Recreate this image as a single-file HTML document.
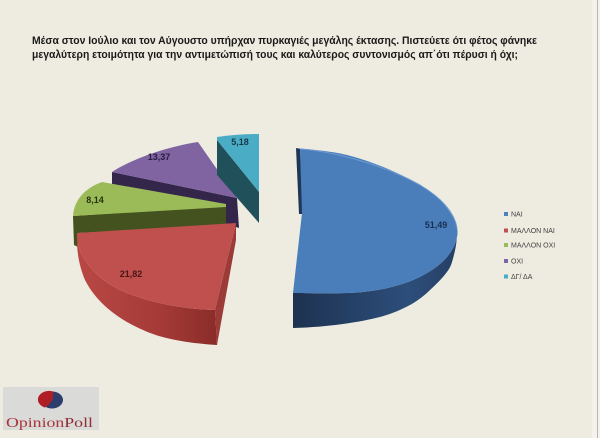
<!DOCTYPE html>
<html>
<head>
<meta charset="utf-8">
<style>
  html, body { margin: 0; padding: 0; background: #EEECE1; }
  svg { display: block; }
</style>
</head>
<body>
<svg width="600" height="438" viewBox="0 0 600 438" xmlns="http://www.w3.org/2000/svg">
  <defs>
    <linearGradient id="blueSide" x1="293" y1="0" x2="458" y2="0" gradientUnits="userSpaceOnUse">
      <stop offset="0" stop-color="#1D3250"/>
      <stop offset="0.7" stop-color="#2D4E7B"/>
      <stop offset="1" stop-color="#253F64"/>
    </linearGradient>
    <linearGradient id="redSide" x1="77" y1="0" x2="217" y2="0" gradientUnits="userSpaceOnUse">
      <stop offset="0" stop-color="#B94844"/>
      <stop offset="0.6" stop-color="#A53A37"/>
      <stop offset="1" stop-color="#8A2C29"/>
    </linearGradient>
  </defs>

  <!-- background & right border -->
  <rect x="0" y="0" width="600" height="438" fill="#EEECE1"/>
  <rect x="592" y="0" width="5" height="438" fill="#F4F2EA"/>
  <rect x="597" y="0" width="1" height="438" fill="#B9B9B4"/>
  <rect x="598" y="0" width="2" height="438" fill="#F2F2F2"/>

  <!-- title -->
  <g font-family="'Liberation Sans', 'DejaVu Sans', sans-serif" font-weight="bold" font-size="11" fill="#1A1A1A">
    <text x="32" y="44" textLength="505" lengthAdjust="spacingAndGlyphs">Μέσα στον Ιούλιο και τον Αύγουστο υπήρχαν πυρκαγιές μεγάλης έκτασης. Πιστεύετε ότι φέτος φάνηκε</text>
    <text x="32" y="58" textLength="486" lengthAdjust="spacingAndGlyphs">μεγαλύτερη ετοιμότητα για την αντιμετώπισή τους και καλύτερος συντονισμός απ΄ότι πέρυσι ή όχι;</text>
  </g>

  <!-- purple slice (ΟΧΙ) -->
  <polygon points="112,172 237,198 239,228 112,184" fill="#33264A"/>
  <path d="M112,172 C130,160 165,147 198,142 L237,198 Z" fill="#8064A2"/>

  <!-- green slice (ΜΑΛΛΟΝ ΟΧΙ) -->
  <polygon points="73,216 226,206 226,226 78,233 78,247 74,245" fill="#43521F"/>
  <path d="M73,216 C74,200 85,188 102,182 L226,204 L226,207 Z" fill="#9BBB59"/>

  <!-- red slice (ΜΑΛΛΟΝ ΝΑΙ) -->
  <path d="M77,233 C76,255 95,280 127,293 C150,302 180,309 215,310 L217,345 C185,343 160,338 143,330 C115,318 95,300 85,280 C80,268 77,255 77,240 Z" fill="url(#redSide)"/>
  <polygon points="236,223 236,240 217,345 215,310" fill="#9C3A37"/>
  <path d="M77,233 C76,255 95,280 127,293 C150,302 180,309 215,310 L236,223 Z" fill="#C0504D"/>

  <!-- cyan slice (ΔΓ/ΔΑ) -->
  <polygon points="217,140 259,192 259,223 217,175" fill="#20515B"/>
  <path d="M217,137 Q238,134 259,134 L259,192 L217,140 Z" fill="#4BACC6"/>

  <!-- blue slice (ΝΑΙ) -->
  <path d="M457,228 C458.7,238 454.3,248.3 447,257 C439.7,265.7 427,274.2 413,280 C399,285.8 383,289.8 363,292 C343,294.2 304.7,292.8 293,293 L293,328 C330,327 360,322 380,317 C405,310 420,300 430,290 C442,279 450,270 452,262 C455,252 457,243 457,232 Z" fill="url(#blueSide)"/>
  <polygon points="296,148 300,149 303,214 299,214" fill="#1F3656"/>
  <path d="M297,148 C305.3,149.2 330.3,150.8 347,155 C363.7,159.2 382,166 397,173 C412,180 427,187.8 437,197 C447,206.2 455.3,218 457,228 C458.7,238 454.3,248.3 447,257 C439.7,265.7 427,274.2 413,280 C399,285.8 383,289.8 363,292 C343,294.2 304.7,292.8 293,293 L302,213 L300,149 Z" fill="#4A7EBB"/>
  <path d="M300,149 C330,151 380,163 420,185 C445,200 455,215 457,228" fill="none" stroke="#6F9AD0" stroke-width="1"/>

  <!-- data labels -->
  <g font-family="'Liberation Sans', sans-serif" font-weight="bold" font-size="9" text-anchor="middle">
    <text x="436" y="228" fill="#1B2F4F">51,49</text>
    <text x="131" y="277" fill="#4A1614">21,82</text>
    <text x="95" y="203" fill="#28330F">8,14</text>
    <text x="159" y="160" fill="#2A1C40">13,37</text>
    <text x="240" y="145" fill="#133C46">5,18</text>
  </g>

  <!-- legend -->
  <g font-family="'Liberation Sans', sans-serif" font-size="7" fill="#404040">
    <rect x="504" y="212" width="4" height="4" fill="#4F81BD"/>
    <text x="511" y="216.5">ΝΑΙ</text>
    <rect x="504" y="228.5" width="4" height="4" fill="#C0504D"/>
    <text x="511" y="233">ΜΑΛΛΟΝ  ΝΑΙ</text>
    <rect x="504" y="243" width="4" height="4" fill="#9BBB59"/>
    <text x="511" y="247.5">ΜΑΛΛΟΝ  ΟΧΙ</text>
    <rect x="504" y="259" width="4" height="4" fill="#8064A2"/>
    <text x="511" y="263.5">ΟΧΙ</text>
    <rect x="504" y="274.5" width="4" height="4" fill="#4BACC6"/>
    <text x="511" y="279">ΔΓ/ ΔΑ</text>
  </g>

  <!-- logo -->
  <rect x="3" y="387" width="96" height="43" fill="#DADAD8"/>
  <ellipse cx="52" cy="400" rx="11" ry="8.5" fill="#2D3E6C"/>
  <path d="M53,391.5 A11,8.5 0 0 0 45,407.5 Q55,401 53,391.5 Z" fill="#B01E25"/>
  <text x="6" y="427" font-family="'Liberation Serif', serif" font-size="14" textLength="87" lengthAdjust="spacingAndGlyphs"><tspan fill="#A8353B">Opinion</tspan><tspan fill="#8E2D33">Poll</tspan></text>
</svg>
</body>
</html>
